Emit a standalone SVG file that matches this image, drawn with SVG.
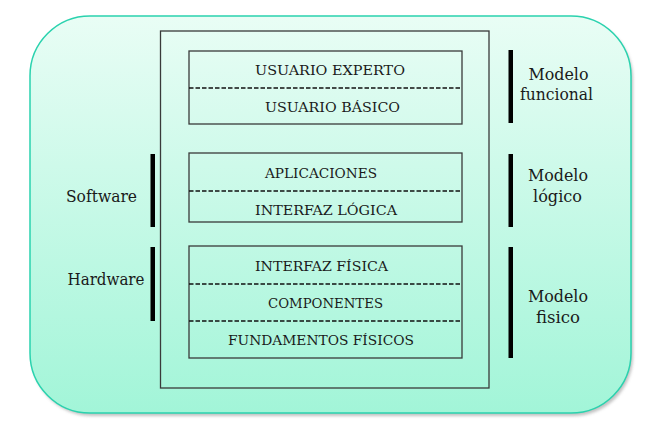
<svg xmlns="http://www.w3.org/2000/svg" width="670" height="428" viewBox="0 0 670 428">
<defs>
<linearGradient id="bg" x1="0" y1="0" x2="0" y2="1">
<stop offset="0" stop-color="#e9fdf5"/>
<stop offset="1" stop-color="#a2f5d8"/>
</linearGradient>
<filter id="sh" x="-5%" y="-5%" width="110%" height="115%">
<feGaussianBlur stdDeviation="1.5"/>
</filter>
</defs>
<style>
.box{fill:none;stroke:#3a3a3a;stroke-width:1.3}
.dash{stroke:#111;stroke-width:1.6;stroke-dasharray:4.5 2}
.bar{fill:#000}
text{font-family:"DejaVu Serif Condensed","DejaVu Serif",serif;fill:#1a1a1a}
.lbl{font-size:13.5px}
.side{font-size:17.5px}
</style>
<rect x="32" y="19" width="601" height="397" rx="60" fill="#9a9a9a" opacity="0.6" filter="url(#sh)"/>
<rect x="30" y="16" width="601" height="397" rx="60" fill="url(#bg)" stroke="#2ad2ae" stroke-width="1.5"/>
<g id="frame">
<rect x="160.5" y="31" width="328.5" height="357" class="box"/>
</g>
<g id="group-funcional">
<rect x="189" y="51" width="273" height="73" class="box"/>
<line x1="189" y1="88" x2="462" y2="88" class="dash"/>
<text x="255" y="75" class="lbl" textLength="150" lengthAdjust="spacingAndGlyphs">USUARIO EXPERTO</text>
<text x="265" y="112" class="lbl" textLength="135" lengthAdjust="spacingAndGlyphs">USUARIO BÁSICO</text>
</g>
<g id="group-logico">
<rect x="189" y="153" width="273" height="69" class="box"/>
<line x1="189" y1="191" x2="462" y2="191" class="dash"/>
<text x="265" y="178" class="lbl" textLength="112" lengthAdjust="spacingAndGlyphs">APLICACIONES</text>
<text x="255" y="215" class="lbl" textLength="142" lengthAdjust="spacingAndGlyphs">INTERFAZ LÓGICA</text>
</g>
<g id="group-fisico">
<rect x="189" y="246" width="273" height="112" class="box"/>
<line x1="189" y1="284" x2="462" y2="284" class="dash"/>
<line x1="189" y1="321" x2="462" y2="321" class="dash"/>
<text x="255" y="271" class="lbl" textLength="133" lengthAdjust="spacingAndGlyphs">INTERFAZ FÍSICA</text>
<text x="268" y="307.5" class="lbl" textLength="115" lengthAdjust="spacingAndGlyphs">COMPONENTES</text>
<text x="228" y="345" class="lbl" textLength="186" lengthAdjust="spacingAndGlyphs">FUNDAMENTOS FÍSICOS</text>
</g>
<g id="software">
<rect x="150.5" y="154" width="4.5" height="73" class="bar"/>
<text x="66" y="201.5" class="side" textLength="71" lengthAdjust="spacingAndGlyphs">Software</text>
</g>
<g id="hardware">
<rect x="150.5" y="247" width="4.5" height="74" class="bar"/>
<text x="67.5" y="285" class="side" textLength="77" lengthAdjust="spacingAndGlyphs">Hardware</text>
</g>
<g id="modelo-funcional">
<rect x="508.5" y="50" width="4.5" height="73" class="bar"/>
<text x="528.5" y="79.5" class="side" textLength="60" lengthAdjust="spacingAndGlyphs">Modelo</text>
<text x="520" y="99.5" class="side" textLength="73" lengthAdjust="spacingAndGlyphs">funcional</text>
</g>
<g id="modelo-logico">
<rect x="508.5" y="154" width="4.5" height="73" class="bar"/>
<text x="528" y="180.5" class="side" textLength="60" lengthAdjust="spacingAndGlyphs">Modelo</text>
<text x="533" y="201.5" class="side" textLength="49" lengthAdjust="spacingAndGlyphs">lógico</text>
</g>
<g id="modelo-fisico">
<rect x="508.5" y="247" width="4.5" height="111" class="bar"/>
<text x="528" y="301.5" class="side" textLength="60" lengthAdjust="spacingAndGlyphs">Modelo</text>
<text x="536" y="322.5" class="side" textLength="44" lengthAdjust="spacingAndGlyphs">fisico</text>
</g>
<g id="connectors"></g>
</svg>
